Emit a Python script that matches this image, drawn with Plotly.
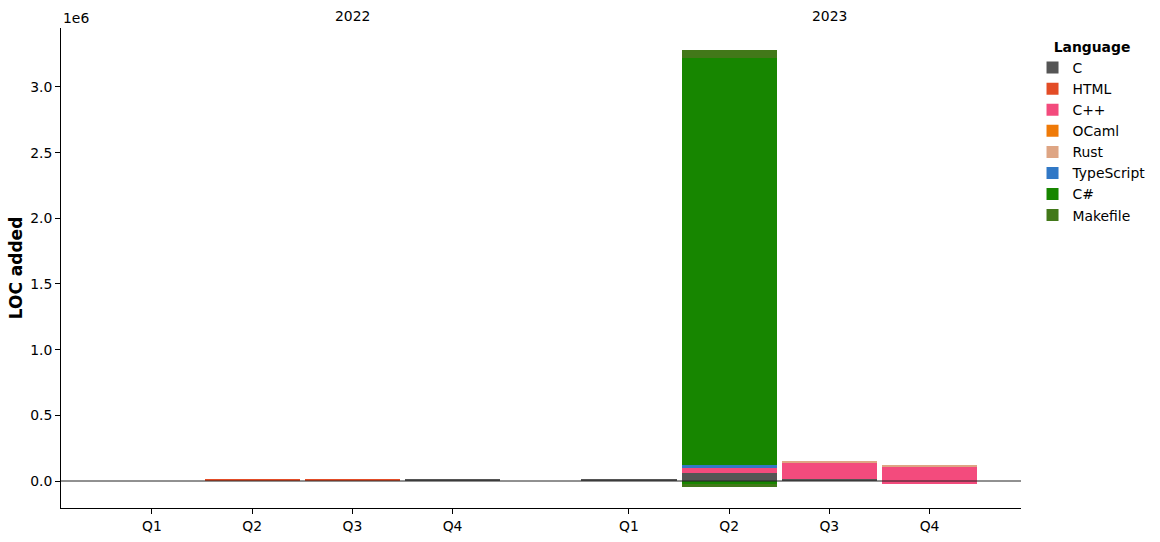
import plotly.graph_objects as go

# ---- data ----
years = ["2022", "2023"]
quarters = ["Q1", "Q2", "Q3", "Q4"]
languages = ["C", "HTML", "C++", "OCaml", "Rust", "TypeScript", "C#", "Makefile"]
colors = ["#555555", "#e34c26", "#f34b7d", "#ef7a08", "#dea584", "#3178c6", "#178600", "#427819"]

# LOC added per period (2022 Q1..Q4, 2023 Q1..Q4)
loc_C = [0, 0, 0, 8000, 8000, 62000, 15000, 0]
loc_HTML = [0, 10000, 10000, 0, 0, 0, 0, 0]
loc_Cpp = [0, 0, 0, 0, 0, 36000, 124000, 113000]
loc_OCaml = [0, 0, 0, 0, 0, 0, 0, 0]
loc_Rust = [0, 0, 0, 0, 0, 0, 7000, 9000]
loc_TypeScript = [0, 0, 0, 0, 0, 25000, 0, 0]
loc_Csharp = [0, 0, 0, 0, 0, 3100000, 0, 0]
loc_Makefile = [0, 0, 0, 0, 0, 58000, 0, 0]

# negative contributions
neg_Cpp = [0, 0, 0, 0, 0, 0, 0, -23000]
neg_Csharp = [0, 0, 0, 0, 0, -30000, 0, 0]
neg_Makefile = [0, 0, 0, 0, 0, -15000, 0, 0]

positive = [loc_C, loc_HTML, loc_Cpp, loc_OCaml, loc_Rust, loc_TypeScript, loc_Csharp, loc_Makefile]
negative = {"C++": neg_Cpp, "C#": neg_Csharp, "Makefile": neg_Makefile}

# ---- layout positions ----
year_offset = 4.76
xpos = []
for yi, _ in enumerate(years):
    for qi, _ in enumerate(quarters):
        xpos.append(qi + yi * year_offset)
tick_text = [q for _ in years for q in quarters]

FONT = "DejaVu Sans"
FS = 13.9
fig = go.Figure()
for lang, col, vals in zip(languages, colors, positive):
    fig.add_trace(go.Bar(x=xpos, y=vals, name=lang, marker=dict(color=col, line=dict(width=0)),
                         width=0.95, legendgroup=lang))
    if lang in negative:
        fig.add_trace(go.Bar(x=xpos, y=negative[lang], name=lang, showlegend=False,
                             marker=dict(color=col, line=dict(width=0)), width=0.95, legendgroup=lang))

yt = [0, 500000, 1000000, 1500000, 2000000, 2500000, 3000000]
fig.update_layout(
    barmode="relative",
    bargap=0,
    width=1160, height=542,
    margin=dict(l=61, r=139, t=28, b=34, autoexpand=False),
    plot_bgcolor="white", paper_bgcolor="white",
    font=dict(family=FONT, size=FS, color="black"),
    showlegend=True,
    legend=dict(x=1.012, xanchor="left", y=0.9875, yanchor="top",
                title=dict(text="<b>Language</b>", side="top center", font=dict(size=FS)),
                font=dict(size=FS), tracegroupgap=0, itemclick=False),
    xaxis=dict(range=[-0.908, 8.673], tickmode="array", tickvals=xpos, ticktext=tick_text,
               showgrid=False, zeroline=False, showline=True, linecolor="black", linewidth=1,
               ticks="outside", ticklen=5, tickcolor="black", automargin=False),
    yaxis=dict(range=[-205600, 3449000], tickmode="array", tickvals=yt,
               ticktext=[f"{v/1e6:.1f}" for v in yt],
               showgrid=False, zeroline=False, showline=True, linecolor="black", linewidth=1,
               ticks="outside", ticklen=5, tickcolor="black", automargin=False,
               title=dict(text="<b>LOC added</b>", standoff=3)),
)

fig.add_shape(type="line", xref="paper", yref="y", x0=0, x1=1, y0=0, y1=0,
              line=dict(color="#222222", width=1), layer="above")

fig.add_annotation(text="1e6", xref="paper", yref="paper", x=0, y=1, xanchor="left",
                   yanchor="bottom", showarrow=False, font=dict(size=FS), yshift=0)

for yi, yr in enumerate(years):
    fig.add_annotation(text=yr, xref="x", yref="paper", x=xpos[yi * 4 + 2], y=1,
                       xanchor="center", yanchor="bottom", showarrow=False,
                       font=dict(size=FS), yshift=2)

fig.write_html("out.html", config={"displayModeBar": False},
               post_script="document.body.style.margin='0';document.body.style.padding='0';")
